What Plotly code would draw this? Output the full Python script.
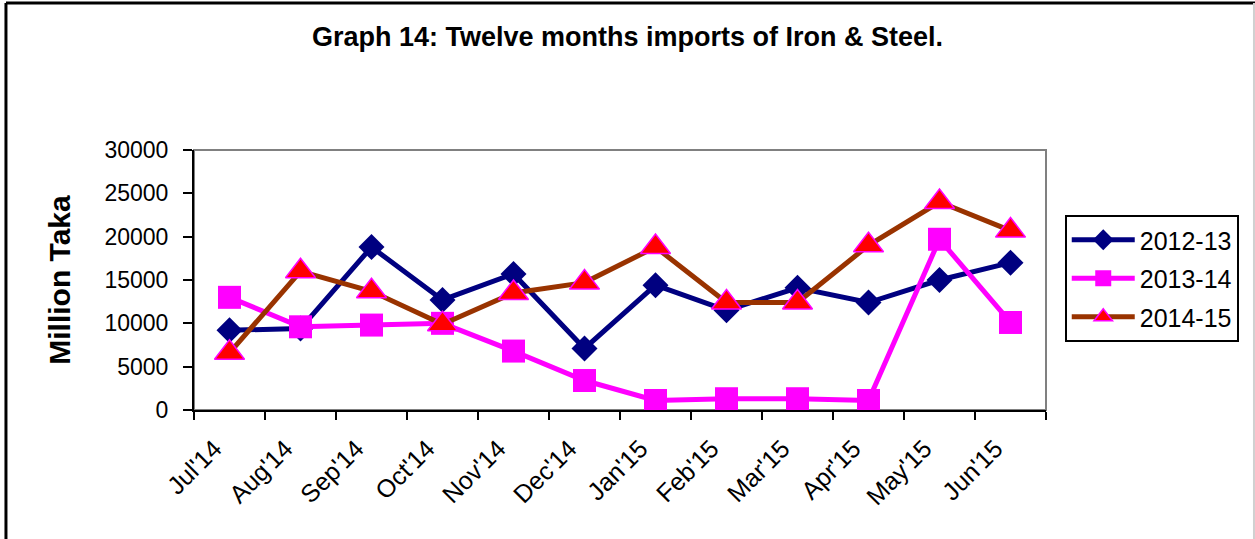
import plotly.graph_objects as go

months = ["Jul'14", "Aug'14", "Sep'14", "Oct'14", "Nov'14", "Dec'14",
          "Jan'15", "Feb'15", "Mar'15", "Apr'15", "May'15", "Jun'15"]
s2012_13 = [9200, 9400, 18800, 12700, 15700, 7100, 14400, 11500, 14100, 12400, 15000, 17000]
s2013_14 = [13000, 9600, 9800, 10000, 6800, 3400, 1100, 1300, 1300, 1100, 19700, 10100]
s2014_15 = [6600, 16000, 13700, 9900, 13500, 14700, 18800, 12400, 12400, 19000, 24000, 20700]

FONT = "Liberation Sans, Arial, sans-serif"

fig = go.Figure()
fig.add_trace(go.Scatter(
    x=months, y=s2012_13, name="2012-13", mode="lines+markers", legendgroup="a",
    line=dict(color="#000080", width=5),
    marker=dict(symbol="diamond", size=20, color="#000080")))
fig.add_trace(go.Scatter(
    x=months, y=s2013_14, name="2013-14", mode="lines+markers", legendgroup="b",
    line=dict(color="#FF00FF", width=5),
    marker=dict(symbol="square", size=23, color="#FF00FF")))
fig.add_trace(go.Scatter(
    x=months, y=s2014_15, name="2014-15", mode="lines+markers", legendgroup="c",
    line=dict(color="#993300", width=5),
    marker=dict(symbol="triangle-up", size=26, color="#FF0000",
                line=dict(color="#FF00FF", width=1.5))))

# plot area border (gray) and outer chart frame
shapes = [
    dict(type="rect", xref="paper", yref="paper", x0=0, x1=1, y0=0, y1=1,
         line=dict(color="#808080", width=2), layer="below"),
    dict(type="line", xref="paper", yref="paper", x0=-0.2207, x1=-0.2207, y0=-0.6, y1=1.5654,
         line=dict(color="black", width=3)),
    dict(type="line", xref="paper", yref="paper", x0=-0.2207, x1=1.25, y0=1.5654, y1=1.5654,
         line=dict(color="black", width=3)),
    dict(type="line", xref="paper", yref="paper", x0=1.2441, x1=1.2441, y0=-0.6, y1=1.5654,
         line=dict(color="#d0d0d0", width=2)),
]

fig.update_layout(
    width=1255, height=539,
    margin=dict(l=194, r=209, t=150, b=129),
    paper_bgcolor="white", plot_bgcolor="white",
    font=dict(family=FONT, color="black"),
    title=dict(text="<b>Graph 14: Twelve months imports of Iron & Steel.</b>",
               x=0.5, xref="container", xanchor="center",
               y=1 - 37 / 539, yref="container", yanchor="middle",
               font=dict(size=27, family=FONT, color="black")),
    xaxis=dict(type="category", range=[-0.5, 11.5], tickson="boundaries",
               showline=True, linecolor="black", linewidth=2,
               ticks="outside", ticklen=8, tickwidth=2, tickcolor="black",
               tickangle=-45, tickfont=dict(size=25, family=FONT),
               ticklabelstandoff=12, ticklabelshift=-15,
               showgrid=False, zeroline=False),
    yaxis=dict(range=[0, 30000], tickmode="array",
               tickvals=[0, 5000, 10000, 15000, 20000, 25000, 30000],
               ticktext=["0", "5000", "10000", "15000", "20000", "25000", "30000"],
               showline=True, linecolor="black", linewidth=2,
               ticks="outside", ticklen=9, tickwidth=2, tickcolor="black",
               ticklabelstandoff=10,
               tickfont=dict(size=23, family=FONT),
               title=dict(text="<b>Million Taka</b>", font=dict(size=30, family=FONT), standoff=25),
               showgrid=False, zeroline=False),
    legend=dict(x=1.022, y=0.75, xanchor="left", yanchor="top",
                bordercolor="black", borderwidth=2, bgcolor="white",
                font=dict(size=25, family=FONT), tracegroupgap=3,
                itemwidth=63),
    showlegend=True,
    shapes=shapes,
)

fig.write_html("out.html", config={"displayModeBar": False},
               post_script="document.body.style.margin='0';")
